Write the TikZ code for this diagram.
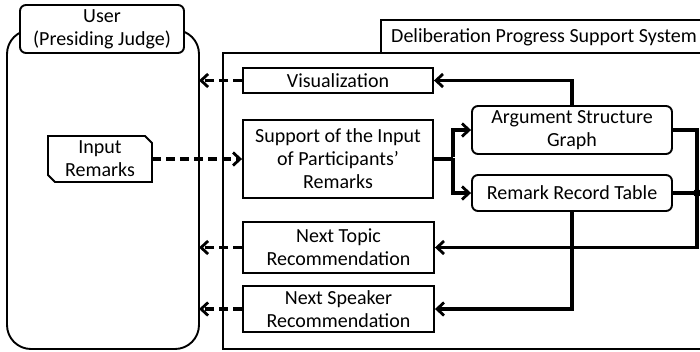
\documentclass[tikz,border=0pt]{standalone}
\usepackage{fontspec}
\setmainfont{Carlito}
\usetikzlibrary{arrows.meta,calc}
\begin{document}
\begin{tikzpicture}[x=1pt,y=-1pt,
  txt/.style={font=\fontsize{20}{23}\selectfont},
  box/.style={draw,line width=1.9pt,fill=white,align=center,inner sep=0pt,txt},
  rbox/.style={box,rounded corners=6pt},
  flow/.style={line width=3.2pt,-{Straight Barb[length=7pt,width=13pt,line width=2.8pt]}},
  dflow/.style={flow,dash pattern=on 9pt off 5pt},
  lbl/.style={txt,inner sep=0pt}]
\useasboundingbox (0,0) rectangle (700,351);

% user column
\draw[line width=1.9pt,rounded corners=24pt] (7,30) rectangle (199,349);
\node[rbox,minimum width=164pt,minimum height=48pt] (user) at (102,29) {User\\(Presiding Judge)};

% system frame and its title tab
\draw[line width=1.9pt] (223,53) rectangle (720,349);
\draw[line width=1.9pt] (381,53) -- (381,20) -- (720,20);
\node[lbl,anchor=west] (sys) at (391,37) {Deliberation Progress Support System};

% input remarks (cut corners)
\draw[line width=1.9pt,fill=white] (48,136) -- (145,136) -- (152,143) -- (152,182) -- (55,182) -- (48,175) -- cycle;
\node[lbl,align=center] (inp) at (100,159) {Input\\Remarks};
\coordinate (inpE) at (152,159);

% function boxes
\node[box,minimum width=190pt,minimum height=25pt] (vis) at (338,80.5) {Visualization};
\node[box,minimum width=190pt,minimum height=78pt] (sup) at (338,159) {Support of the Input\\of Participants'\\Remarks};
\node[box,minimum width=191pt,minimum height=51pt] (topic) at (338.5,247.5) {Next Topic\\Recommendation};
\node[box,minimum width=191pt,minimum height=46pt] (spk) at (338.5,309) {Next Speaker\\Recommendation};

% data stores
\node[rbox,minimum width=200pt,minimum height=48pt] (asg) at (572,130) {Argument Structure\\Graph};
\node[rbox,minimum width=200pt,minimum height=36pt] (rrt) at (572,193) {Remark Record Table};

% exchanges with the user
\draw[dflow] (vis.west) -- (vis.west -| 199,0);
\draw[dflow] (inpE) -- (sup.west);
\draw[dflow] (topic.west) -- (topic.west -| 199,0);
\draw[dflow] (spk.west) -- (spk.west -| 199,0);

% internal data flow
\coordinate (split) at (453,159);
\draw[line width=3.2pt] (sup.east) -- (split);
\draw[flow] (453,157.4) |- (asg.west);
\draw[flow] (453,158) |- (rrt.west);
\draw[flow] (asg.north) |- (vis.east);
\coordinate (bus) at (697,193);
\draw[line width=3.2pt] (asg.east) -| (bus);
\draw[line width=3.2pt] (rrt.east) -- (bus);
\draw[flow] (bus) |- (topic.east);
\fill (bus) circle (4pt);
\draw[flow] (rrt.south) |- (spk.east);
\end{tikzpicture}
\end{document}
